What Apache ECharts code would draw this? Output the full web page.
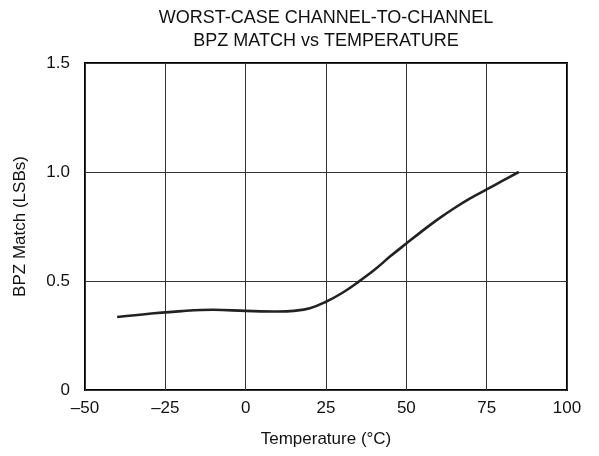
<!DOCTYPE html>
<html><head><meta charset="utf-8">
<script src="https://cdn.jsdelivr.net/npm/echarts@6/dist/echarts.min.js"></script>
<style>html,body{margin:0;padding:0;background:#fff}#c{width:599px;height:456px}</style>
</head><body><div id="c"></div>
<script>
const temps = [-40,-30,-20,-10,0,10,15,20,25,30,35,40,45,50,55,60,65,70,75,80,85];
const match = [0.335,0.35,0.362,0.368,0.363,0.36,0.363,0.375,0.405,0.445,0.495,0.55,0.613,0.672,0.73,0.785,0.835,0.88,0.92,0.96,1.0];
const titleLines = ['WORST-CASE CHANNEL-TO-CHANNEL','BPZ MATCH vs TEMPERATURE'];
const xName = 'Temperature (°C)';
const yName = 'BPZ Match (LSBs)';
const font = 'Liberation Sans, Arial, sans-serif';
const fs = 17;
const chart = echarts.init(document.getElementById('c'));
chart.setOption({
  animation:false,
  title:{text:titleLines.join('\n'),left:321,textAlign:'center',top:2,
    textStyle:{fontFamily:font,fontSize:18,fontWeight:'normal',color:'#111',lineHeight:23}},
  grid:{left:85,top:63,right:32,bottom:66,show:true,borderColor:'#000',borderWidth:2},
  xAxis:{type:'value',min:-50,max:100,interval:25,name:xName,nameLocation:'middle',nameGap:41,
    nameTextStyle:{fontFamily:font,fontSize:fs,color:'#111'},
    axisLine:{show:false},axisTick:{show:false},
    axisLabel:{fontFamily:font,fontSize:fs,color:'#111',margin:10,formatter:v=>String(v).replace('-','\u2013')},
    splitLine:{show:true,lineStyle:{color:'#333',width:1}}},
  yAxis:{type:'value',min:0,max:1.5,interval:0.5,name:yName,nameLocation:'middle',nameGap:56,
    nameTextStyle:{fontFamily:font,fontSize:fs,color:'#111'},
    axisLine:{show:false},axisTick:{show:false},
    axisLabel:{fontFamily:font,fontSize:fs,color:'#111',margin:15,formatter:v=>v===0?'0':v.toFixed(1)},
    splitLine:{show:true,lineStyle:{color:'#333',width:1}}},
  series:[{type:'line',data:temps.map((t,i)=>[t,match[i]]),smooth:0.4,showSymbol:false,
    lineStyle:{color:'#222',width:2.6}}]
});
</script></body></html>
